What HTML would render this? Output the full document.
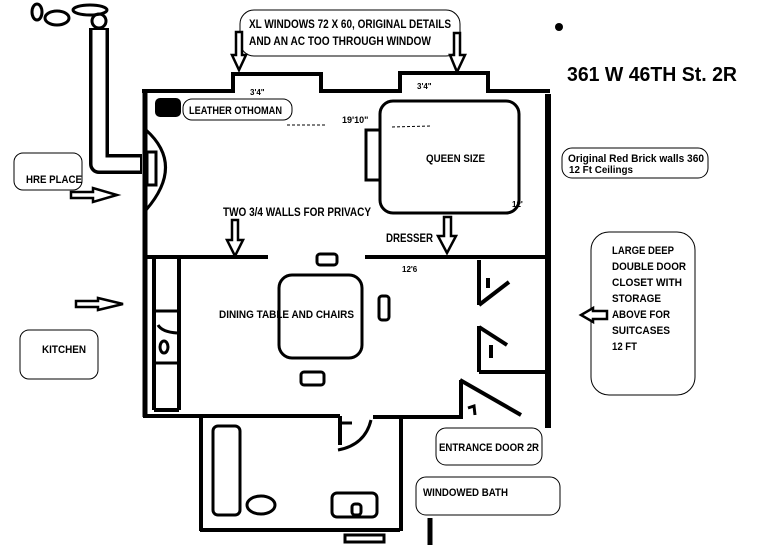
<!DOCTYPE html>
<html><head><meta charset="utf-8"><style>
html,body{margin:0;padding:0;background:#fff;}
svg{display:block;}
text{font-family:"Liberation Sans",sans-serif;font-weight:bold;fill:#000;}
</style></head><body>
<svg width="768" height="550" viewBox="0 0 768 550" xmlns="http://www.w3.org/2000/svg">
<rect width="768" height="550" fill="#fff"/>
<g fill="none" stroke="#000" stroke-width="3">
<!-- chimney -->
<ellipse cx="37" cy="12" rx="5" ry="8"/>
<ellipse cx="57" cy="18" rx="12" ry="7"/>
<ellipse cx="90" cy="10" rx="17" ry="5"/>
<circle cx="99" cy="21" r="7"/>
</g>
<path d="M99 28 L99 164 L142 164" fill="none" stroke="#000" stroke-width="20" stroke-linejoin="round"/>
<path d="M99 30 L99 164 L140 164" fill="none" stroke="#fff" stroke-width="13" stroke-linejoin="round"/>
<g fill="none" stroke="#000" stroke-width="4">
<!-- outer walls -->
<path d="M142 91 L233 91 L233 74 L321 74 L321 91 L400 91 L400 73 L488 73 L488 91 L550 91"/>
<line x1="145" y1="89" x2="145" y2="417" stroke-width="5"/>
<line x1="548" y1="94" x2="548" y2="428" stroke-width="6"/>
<!-- fireplace -->
<rect x="147" y="152" width="9" height="33" stroke-width="3"/>
<path d="M146 130 Q185 165 146 210" stroke-width="3"/>
<!-- bed -->
<rect x="380" y="101" width="139" height="112" rx="13" stroke-width="3"/>
<rect x="366" y="130" width="14" height="50" stroke-width="3"/>
<!-- middle wall -->
<line x1="144" y1="257" x2="268" y2="257"/>
<line x1="365" y1="257" x2="545" y2="257"/>
<rect x="317" y="254" width="20" height="11" rx="3" stroke-width="3"/>
<!-- dining -->
<rect x="279" y="275" width="83" height="83" rx="13" stroke-width="3"/>
<rect x="301" y="372" width="23" height="13" rx="3" stroke-width="3"/>
<rect x="379" y="296" width="10" height="24" rx="3" stroke-width="3"/>
<!-- kitchen counter -->
<line x1="154" y1="259" x2="154" y2="410"/>
<line x1="179" y1="259" x2="179" y2="410"/>
<line x1="154" y1="410" x2="179" y2="410"/>
<line x1="154" y1="311" x2="179" y2="311" stroke-width="3"/>
<line x1="154" y1="363" x2="179" y2="363" stroke-width="3"/>
<ellipse cx="164" cy="347" rx="4" ry="6" stroke-width="3"/>
<path d="M158 325 Q162 332 177 333" stroke-width="3"/>
<!-- bottom walls -->
<line x1="143" y1="416" x2="340" y2="416"/>
<line x1="373" y1="417" x2="463" y2="417"/>
<line x1="340" y1="416" x2="340" y2="445"/>
<line x1="340" y1="423" x2="352" y2="423" stroke-width="3"/>
<path d="M338 450 Q365 445 371 420" stroke-width="3"/>
<!-- bathroom -->
<line x1="201" y1="416" x2="201" y2="531"/>
<line x1="200" y1="530" x2="400" y2="530"/>
<line x1="401" y1="417" x2="401" y2="531"/>
<rect x="213" y="426" width="27" height="89" rx="5" stroke-width="3"/>
<ellipse cx="261" cy="505" rx="14" ry="9" stroke-width="3"/>
<rect x="332" y="493" width="45" height="24" rx="5" stroke-width="3"/>
<rect x="352" y="504" width="9" height="11" rx="3" stroke-width="3"/>
<rect x="345" y="535" width="39" height="7" stroke-width="3"/>
<line x1="430" y1="518" x2="430" y2="545" stroke-width="5"/>
<!-- closet -->
<line x1="479" y1="260" x2="479" y2="305"/>
<line x1="479" y1="305" x2="509" y2="282"/>
<line x1="479" y1="326" x2="479" y2="372"/>
<line x1="479" y1="327" x2="507" y2="345"/>
<line x1="491" y1="345" x2="491" y2="358"/>
<line x1="488" y1="278" x2="488" y2="288"/>
<line x1="479" y1="372" x2="546" y2="372"/>
<line x1="461" y1="380" x2="461" y2="418"/>
<line x1="460" y1="380" x2="521" y2="415"/>
<path d="M468 408 L474 406 L475 415" stroke-width="3"/>
</g>
<!-- ottoman -->
<rect x="155" y="98" width="26" height="19" rx="5" fill="#000"/>
<circle cx="559" cy="27" r="4" fill="#000"/>
<!-- callout boxes -->
<g fill="#fff" stroke="#000" stroke-width="1">
<rect x="240" y="10" width="220" height="46" rx="14"/>
<rect x="183" y="99" width="109" height="21" rx="9"/>
<rect x="14" y="153" width="68" height="37" rx="9"/>
<rect x="562" y="148" width="146" height="30" rx="10"/>
<rect x="591" y="232" width="104" height="163" rx="18"/>
<rect x="20" y="330" width="78" height="49" rx="9"/>
<rect x="436" y="428" width="106" height="37" rx="10"/>
<rect x="416" y="477" width="144" height="38" rx="10"/>
</g>
<!-- hollow arrows -->
<g fill="#fff" stroke="#000" stroke-width="2.5" stroke-linejoin="miter">
<path d="M236 32 L242 32 L242 55 L246 55 L239 70 L232 55 L236 55 Z"/>
<path d="M454 33 L460 33 L460 55 L465 55 L457 72 L450 55 L454 55 Z"/>
<path d="M232 220 L238 220 L238 240 L243 240 L235 256 L227 240 L232 240 Z"/>
<path d="M444 217 L451 217 L451 236 L456 236 L447 253 L438 236 L444 236 Z"/>
<path d="M71 192 L93 192 L93 188 L117 195 L93 202 L93 198 L71 198 Z"/>
<path d="M76 301 L98 301 L98 298 L123 304 L98 310 L98 307 L76 307 Z"/>
<path d="M607 311 L593 311 L593 308 L581 315 L593 322 L593 319 L607 319 Z"/>
</g>
<!-- dashed arrows -->
<g stroke="#000" stroke-width="1" stroke-dasharray="3 2" fill="none">
<line x1="287" y1="125" x2="325" y2="125"/>
<line x1="392" y1="127" x2="430" y2="126"/>
</g>
<!-- labels -->
<text x="249" y="28" font-size="12" textLength="202" lengthAdjust="spacingAndGlyphs">XL WINDOWS 72 X 60, ORIGINAL DETAILS</text>
<text x="249" y="45" font-size="12" textLength="182" lengthAdjust="spacingAndGlyphs">AND AN AC TOO THROUGH WINDOW</text>
<text x="250" y="95" font-size="8" font-weight="normal">3'4"</text>
<text x="417" y="89" font-size="8" font-weight="normal">3'4"</text>
<text x="189" y="114" font-size="11" textLength="93" lengthAdjust="spacingAndGlyphs">LEATHER OTHOMAN</text>
<text x="342" y="123" font-size="9" font-weight="normal">19'10"</text>
<text x="426" y="162" font-size="11" textLength="59" lengthAdjust="spacingAndGlyphs">QUEEN SIZE</text>
<text x="512" y="207" font-size="8" font-weight="normal">12'</text>
<text x="26" y="183" font-size="11" textLength="56" lengthAdjust="spacingAndGlyphs">HRE PLACE</text>
<text x="223" y="216" font-size="12" textLength="148" lengthAdjust="spacingAndGlyphs">TWO 3/4 WALLS FOR PRIVACY</text>
<text x="386" y="242" font-size="12" textLength="47" lengthAdjust="spacingAndGlyphs">DRESSER</text>
<text x="402" y="272" font-size="8" font-weight="normal">12'6</text>
<text x="567" y="81" font-size="20" textLength="170" lengthAdjust="spacingAndGlyphs">361 W 46TH St. 2R</text>
<text x="568" y="162" font-size="11" font-weight="normal" textLength="136" lengthAdjust="spacingAndGlyphs">Original Red Brick walls 360</text>
<text x="569" y="173" font-size="10" font-weight="normal" textLength="64" lengthAdjust="spacingAndGlyphs">12 Ft Ceilings</text>
<g font-size="11">
<text x="612" y="254" textLength="62" lengthAdjust="spacingAndGlyphs">LARGE DEEP</text>
<text x="612" y="270" textLength="74" lengthAdjust="spacingAndGlyphs">DOUBLE DOOR</text>
<text x="612" y="286" textLength="70" lengthAdjust="spacingAndGlyphs">CLOSET WITH</text>
<text x="612" y="302" textLength="49" lengthAdjust="spacingAndGlyphs">STORAGE</text>
<text x="612" y="318" textLength="58" lengthAdjust="spacingAndGlyphs">ABOVE FOR</text>
<text x="612" y="334" textLength="58" lengthAdjust="spacingAndGlyphs">SUITCASES</text>
<text x="612" y="350" textLength="25" lengthAdjust="spacingAndGlyphs">12 FT</text>
</g>
<text x="42" y="353" font-size="11" textLength="44" lengthAdjust="spacingAndGlyphs">KITCHEN</text>
<text x="219" y="318" font-size="11" textLength="135" lengthAdjust="spacingAndGlyphs">DINING TABLE AND CHAIRS</text>
<text x="439" y="451" font-size="11" textLength="100" lengthAdjust="spacingAndGlyphs">ENTRANCE DOOR 2R</text>
<text x="423" y="496" font-size="11" textLength="85" lengthAdjust="spacingAndGlyphs">WINDOWED BATH</text>
</svg>
</body></html>
